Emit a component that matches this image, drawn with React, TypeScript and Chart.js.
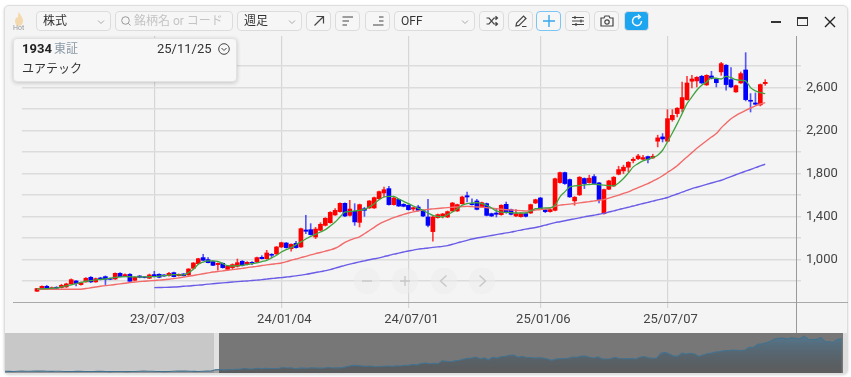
import React, { useEffect, useRef } from "react";
import { Chart, registerables } from "chart.js";

Chart.register(...registerables);

const opens = [
  705,723,751,730,742,739,745,773,801,767,
  792,835,792,829,841,822,819,872,844,863,
  807,847,838,826,860,863,857,850,878,850,
  866,857,919,962,1018,999,981,953,965,909,
  925,937,984,956,974,977,1021,1008,1049,1052,
  1117,1154,1101,1151,1117,1275,1278,1210,1272,1318,
  1343,1415,1446,1523,1411,1449,1346,1473,1480,1480,
  1566,1619,1660,1511,1560,1514,1505,1470,1489,1458,
  1396,1260,1390,1405,1396,1452,1452,1520,1594,1520,
  1545,1489,1520,1427,1433,1418,1514,1464,1405,1399,
  1427,1433,1526,1573,1464,1446,1458,1716,1809,1744,
  1546,1602,1754,1716,1772,1713,1428,1654,1685,1794,
  1825,1859,1921,1939,1933,1958,1946,2101,2141,2101,
  2302,2358,2405,2488,2659,2662,2705,2625,2708,2677,
  2746,2808,2674,2560,2643,2764,2482,2457,2439,2637,
];
const closes = [
  730,751,726,739,733,760,773,813,776,785,
  826,792,822,816,816,816,872,841,860,798,
  835,835,832,857,841,835,847,872,841,863,
  850,912,968,1008,993,971,946,965,925,940,
  953,971,946,974,968,1018,1008,1061,1040,1117,
  1157,1111,1142,1111,1287,1263,1232,1284,1328,1384,
  1439,1458,1523,1405,1470,1350,1511,1458,1545,1576,
  1632,1650,1511,1573,1498,1495,1464,1483,1458,1405,
  1318,1396,1418,1424,1446,1526,1511,1582,1582,1511,
  1467,1529,1411,1405,1421,1505,1436,1421,1427,1427,
  1402,1511,1557,1473,1446,1464,1752,1809,1707,1583,
  1580,1766,1707,1757,1707,1558,1651,1732,1766,1837,
  1859,1905,1933,1964,1949,1933,1961,2132,2122,2311,
  2342,2408,2507,2643,2680,2696,2643,2714,2687,2646,
  2823,2628,2606,2618,2730,2488,2473,2445,2628,2649,
];
const highs = [
  732,755,760,745,748,770,780,820,805,790,
  832,842,828,835,848,828,876,878,868,870,
  840,852,842,865,891,868,860,882,884,866,
  870,916,972,1012,1049,1018,985,970,970,945,
  960,1005,990,980,980,1022,1036,1086,1055,1122,
  1162,1158,1147,1170,1292,1412,1334,1300,1343,1390,
  1446,1474,1528,1528,1551,1520,1516,1485,1550,1582,
  1638,1675,1681,1578,1565,1520,1510,1490,1505,1462,
  1560,1402,1424,1430,1452,1532,1516,1590,1628,1566,
  1560,1535,1526,1432,1473,1510,1535,1470,1464,1434,
  1434,1516,1562,1578,1470,1470,1758,1815,1815,1750,
  1586,1772,1760,1785,1790,1718,1656,1738,1772,1868,
  1878,1912,1949,1980,1970,1962,1980,2157,2172,2395,
  2395,2414,2652,2705,2714,2702,2714,2720,2752,2682,
  2835,2814,2786,2624,2745,2925,2544,2550,2634,2674,
];
const lows = [
  703,720,720,725,728,735,740,770,754,762,
  790,785,788,810,767,812,815,838,840,795,
  805,830,828,822,838,830,843,846,838,846,
  846,853,915,958,990,968,942,900,920,905,
  915,930,940,950,953,972,1005,1003,1018,1048,
  1112,1106,1077,1106,1112,1241,1228,1195,1265,1312,
  1338,1410,1440,1400,1405,1318,1303,1402,1475,1475,
  1560,1582,1506,1506,1493,1490,1460,1455,1453,1400,
  1303,1170,1385,1387,1390,1447,1447,1515,1536,1505,
  1462,1484,1406,1400,1396,1412,1430,1415,1400,1394,
  1396,1428,1520,1468,1436,1440,1452,1710,1700,1578,
  1505,1596,1660,1710,1702,1527,1422,1650,1680,1788,
  1800,1815,1899,1930,1928,1899,1940,2048,2094,2095,
  2287,2327,2373,2482,2597,2606,2638,2620,2680,2606,
  2714,2575,2600,2555,2638,2476,2373,2440,2429,2621,
];
const maShort = [
  726,728,730,733,736,745,754,765,776,787,
  798,804,810,815,819,827,835,838,841,840,
  838,838,838,840,841,846,850,855,860,858,
  857,878,909,956,977,987,987,984,962,943,
  940,943,946,952,962,968,981,993,1015,1040,
  1070,1092,1111,1139,1164,1191,1216,1235,1256,1278,
  1312,1349,1396,1442,1446,1452,1458,1466,1490,1520,
  1557,1582,1588,1588,1563,1542,1520,1498,1477,1458,
  1433,1411,1402,1396,1418,1442,1473,1505,1520,1526,
  1529,1520,1505,1480,1452,1442,1439,1436,1433,1433,
  1433,1452,1473,1477,1480,1480,1505,1583,1630,1676,
  1685,1688,1695,1698,1701,1698,1692,1688,1685,1713,
  1754,1806,1862,1893,1918,1933,1949,1971,2017,2095,
  2178,2265,2358,2451,2513,2575,2622,2652,2690,2687,
  2680,2705,2693,2674,2668,2662,2600,2569,2553,2544,
];
const maMid = [
  723,724,724,724,724,724,724,724,724,724,
  730,737,744,751,757,762,768,774,780,786,
  791,795,798,802,805,809,812,817,823,830,
  837,844,852,860,868,876,884,889,895,900,
  906,912,918,925,931,937,944,950,956,962,
  968,980,993,1005,1018,1030,1043,1055,1066,1078,
  1090,1105,1130,1160,1180,1197,1212,1240,1270,1300,
  1330,1352,1372,1390,1405,1420,1433,1444,1452,1460,
  1467,1471,1475,1479,1483,1486,1489,1492,1495,1492,
  1489,1486,1483,1478,1473,1468,1464,1461,1458,1455,
  1452,1456,1461,1466,1470,1480,1495,1506,1511,1516,
  1521,1527,1533,1539,1546,1552,1558,1572,1586,1600,
  1615,1630,1650,1669,1688,1707,1730,1752,1780,1810,
  1840,1872,1915,1955,1995,2035,2070,2105,2140,2172,
  2225,2268,2310,2340,2365,2388,2410,2430,2447,2460,
];
const maLong: (number | null)[] = [
  null,null,null,null,null,null,null,null,null,null,
  null,null,null,null,null,null,null,null,null,null,
  null,null,null,null,739,740,741,742,744,747,
  751,754,758,762,766,771,775,779,783,787,
  791,795,798,801,805,809,813,818,823,828,
  832,837,842,848,855,862,870,880,888,897,
  906,920,933,946,958,968,978,988,998,1007,
  1015,1027,1038,1050,1060,1070,1080,1088,1097,1102,
  1108,1113,1118,1123,1129,1142,1155,1167,1179,1191,
  1200,1208,1216,1224,1232,1240,1248,1255,1265,1274,
  1283,1291,1298,1309,1320,1332,1343,1352,1361,1370,
  1379,1388,1397,1405,1413,1421,1430,1442,1453,1465,
  1476,1487,1498,1510,1521,1532,1543,1555,1566,1577,
  1594,1610,1627,1643,1660,1673,1686,1699,1712,1725,
  1738,1755,1772,1789,1806,1822,1838,1855,1871,1887,
];
const earlierCloses = [
  640,635,630,640,650,645,640,650,660,650,
  640,635,645,640,630,625,630,640,635,630,
  625,630,635,640,630,620,625,630,625,620,
  625,630,640,650,645,640,630,625,620,630,
  640,650,660,650,640,635,630,640,650,660,
];
const dateTicks = [
  { week: 24, label: "23/07/03" },
  { week: 50, label: "24/01/04" },
  { week: 76, label: "24/07/01" },
  { week: 103, label: "25/01/06" },
  { week: 129, label: "25/07/07" },
];
const gridPrices = [800, 1000, 1200, 1400, 1600, 1800, 2000, 2200, 2400, 2600, 2800];
const labelledPrices = [1000, 1400, 1800, 2200, 2600];

const UI_FONT = "Roboto, 'Noto Sans CJK JP', sans-serif";
const RED = "#ff0000";
const BLUE = "#0000ff";

const toPoints = (vals: (number | null)[]) => vals.map((y, x) => ({ x, y }));

function Box({ l, w, children, active, fill }: any) {
  return (
    <div
      style={{
        position: "absolute", left: l, top: 11, width: w, height: 20, boxSizing: "border-box",
        border: `1.2px solid ${active ? "#7cc4f2" : "#dcdcdc"}`, borderRadius: 4,
        background: fill || "#f6f6f6", display: "flex", alignItems: "center", justifyContent: "center",
      }}
    >
      {children}
    </div>
  );
}

function Select({ l, w, text }: any) {
  return (
    <Box l={l} w={w}>
      <span style={{ position: "absolute", left: 6, top: 0, lineHeight: "18px", fontSize: 12, color: "#333" }}>{text}</span>
      <svg width="8" height="6" style={{ position: "absolute", right: 5, top: 7 }}>
        <path d="M1 1.5 L4 4.5 L7 1.5" fill="none" stroke="#aaa" strokeWidth="1" />
      </svg>
    </Box>
  );
}

function Icon({ d, color = "#444", w = 1.2 }: any) {
  return (
    <svg width="16" height="16" viewBox="0 0 16 16">
      <path d={d} fill="none" stroke={color} strokeWidth={w} />
    </svg>
  );
}

function Round({ x, d }: any) {
  return (
    <div style={{ position: "absolute", left: x - 13, top: 268, width: 26, height: 26, borderRadius: 13, background: "rgba(236,236,236,0.5)", display: "flex", alignItems: "center", justifyContent: "center" }}>
      <Icon d={d} color="#c8c8c8" w={1.4} />
    </div>
  );
}

export default function App() {
  const mainRef = useRef<HTMLCanvasElement>(null);
  const navRef = useRef<HTMLCanvasElement>(null);

  useEffect(() => {
    const bodyColors = closes.map((c, i) => (c >= opens[i] ? RED : BLUE));
    const wickColors = closes.map((c, i) => (c >= opens[i] ? "rgba(255,0,0,0.75)" : "rgba(0,0,255,0.65)"));
    const lineStyle = { pointRadius: 0, cubicInterpolationMode: "monotone" };
    const main = new Chart(mainRef.current as HTMLCanvasElement, {
      type: "bar",
      data: {
        datasets: [
          { type: "line", label: "13週", data: toPoints(maShort) as any, borderColor: "#3fa33f", borderWidth: 1.3, order: 1, ...lineStyle },
          { type: "line", label: "26週", data: toPoints(maMid) as any, borderColor: "#f26a6a", borderWidth: 1.4, order: 2, ...lineStyle },
          { type: "line", label: "52週", data: toPoints(maLong) as any, borderColor: "#6a5ce6", borderWidth: 1.4, order: 3, ...lineStyle },
          {
            type: "bar", label: "実体", data: opens.map((o, i) => ({ x: i, y: [o, closes[i]] })) as any,
            backgroundColor: bodyColors, borderWidth: 0, borderSkipped: false, barThickness: 4, grouped: false, order: 4,
          },
          {
            type: "bar", label: "ヒゲ", data: lows.map((l, i) => ({ x: i, y: [l, highs[i]] })) as any,
            backgroundColor: wickColors, borderWidth: 0, borderSkipped: false, barThickness: 1, grouped: false, order: 5,
          },
        ],
      },
      options: {
        animation: false,
        responsive: false,
        layout: { padding: { left: 22, top: 36, right: 0, bottom: 0 } },
        plugins: { legend: { display: false }, tooltip: { enabled: false } },
        scales: {
          x: {
            type: "linear", offset: false, min: -3.07, max: 155.3,
            afterBuildTicks: (axis: any) => { axis.ticks = dateTicks.map((t) => ({ value: t.week })); },
            afterFit: (axis: any) => { axis.height = 75; },
            grid: { color: "#d6d6d6", lineWidth: 1.2, tickLength: 6, offset: false, drawTicks: true },
            border: { display: false },
            ticks: {
              autoSkip: false, maxRotation: 0, padding: 4, labelOffset: 3, color: "#444",
              font: { family: UI_FONT, size: 13 },
              callback: (v: any) => dateTicks.find((t) => t.week === v)?.label ?? "",
            },
          },
          y: {
            position: "right", min: 605, max: 3080,
            afterBuildTicks: (axis: any) => { axis.ticks = gridPrices.map((value) => ({ value })); },
            afterFit: (axis: any) => { axis.width = 55; },
            grid: { color: "#dcdcdc", lineWidth: 1.5, tickLength: 5 },
            border: { display: false },
            ticks: {
              autoSkip: false, padding: 5, color: "#444", font: { family: UI_FONT, size: 13 },
              callback: (v: any) => (labelledPrices.includes(v) ? Number(v).toLocaleString("en-US") : ""),
            },
          },
        },
      } as any,
    });

    const nav = new Chart(navRef.current as HTMLCanvasElement, {
      type: "line",
      data: {
        datasets: [
          {
            data: [
              ...earlierCloses.map((y, i) => ({ x: i - earlierCloses.length, y })),
              ...closes.map((y, x) => ({ x, y })),
            ] as any,
            borderColor: "#44728e", borderWidth: 1.1, pointRadius: 0, tension: 0, fill: "start",
            backgroundColor: (ctx: any) => {
              const area = ctx.chart.chartArea;
              if (!area) return "rgba(60,130,175,0.4)";
              const g = ctx.chart.ctx.createLinearGradient(0, area.top, 0, area.bottom);
              g.addColorStop(0, "rgba(50,125,175,0.5)");
              g.addColorStop(1, "rgba(30,30,30,0.3)");
              return g;
            },
          },
        ],
      },
      options: {
        animation: false,
        responsive: false,
        plugins: { legend: { display: false }, tooltip: { enabled: false } },
        scales: {
          x: { type: "linear", display: false, min: -50, max: 150 },
          y: { display: false, min: 534, max: 3014 },
        },
      } as any,
    });
    return () => { main.destroy(); nav.destroy(); };
  }, []);

  return (
    <div style={{ position: "absolute", left: 0, top: 0, width: 851, height: 377, background: "#fff", overflow: "hidden", fontFamily: UI_FONT }}>
      <div style={{ position: "absolute", left: 4, top: 5, width: 844, height: 369, boxSizing: "border-box", background: "#f4f4f4", border: "1.3px solid #dedede", borderRadius: 5, boxShadow: "0 1px 3px rgba(0,0,0,0.18)" }} />
      <canvas ref={mainRef} width={851} height={377} style={{ position: "absolute", left: 0, top: 0, width: 851, height: 377 }} />

      {/* navigator */}
      <div style={{ position: "absolute", left: 5, top: 333, width: 209, height: 40, background: "#c8c8c8" }} />
      <div style={{ position: "absolute", left: 214, top: 333, width: 5, height: 40, background: "#e2e2e2" }} />
      <div style={{ position: "absolute", left: 219, top: 333, width: 624, height: 40, background: "#777" }} />
      <div style={{ position: "absolute", left: 843, top: 333, width: 4, height: 40, background: "#dedede" }} />
      <canvas ref={navRef} width={841} height={40} style={{ position: "absolute", left: 5, top: 333, width: 841, height: 40 }} />

      {/* axis rules */}
      <div style={{ position: "absolute", left: 13, top: 302, width: 835, height: 1, background: "#a9a9a9" }} />
      <div style={{ position: "absolute", left: 796, top: 36, width: 1, height: 297, background: "#9a9a9a" }} />

      {/* hot */}
      <svg width="12" height="14" viewBox="0 0 12 14" style={{ position: "absolute", left: 13, top: 12 }}>
        <path d="M6 0 C7 3 10 5 10 9 C10 12 8 14 6 14 C4 14 2 12 2 9 C2 7 3 6 4 5 C4 6 5 6 5 5 C5 3 5 2 6 0 Z" fill="#f5d9ae" />
      </svg>
      <div style={{ position: "absolute", left: 13, top: 24, fontSize: 7, lineHeight: "9px", color: "#999" }}>Hot</div>

      {/* toolbar */}
      <Select l={36} w={75} text="株式" />
      <Box l={115} w={118}>
        <svg width="12" height="12" viewBox="0 0 12 12" style={{ position: "absolute", left: 4, top: 3 }}>
          <circle cx="5.5" cy="5.5" r="3.8" fill="none" stroke="#999" strokeWidth="1" />
          <path d="M8.4 8.4 L10.5 10.5" stroke="#999" strokeWidth="1" />
        </svg>
        <span style={{ position: "absolute", left: 18, top: 0, lineHeight: "18px", fontSize: 12, color: "#c4c4c4", whiteSpace: "nowrap" }}>銘柄名 or コード</span>
      </Box>
      <Select l={237} w={65} text="週足" />
      <Box l={306} w={25}><Icon d="M3.5 12.5 L12.5 3.5 M5.5 3.5 H12.5 V10.5" /></Box>
      <Box l={335} w={25}><Icon d="M2.5 4 H13 M2.5 8 H9 M2.5 12 H7" /></Box>
      <Box l={365} w={25}><Icon d="M9 4 H13.5 M9 8 H13.5 M3 12 H13.5" /></Box>
      <Select l={394} w={81} text="OFF" />
      <Box l={479} w={25}><Icon d="M2.5 5 H5 L10 11 H13 M2.5 11 H5 L10 5 H13 M11.5 3.2 L13.5 5 L11.5 6.8 M11.5 9.2 L13.5 11 L11.5 12.8" /></Box>
      <Box l={508} w={25}><Icon d="M3 13 L3.6 10 L10.5 3 L13 5.5 L6 12.4 Z M9 13.5 H13.5" /></Box>
      <Box l={536} w={25} active><Icon d="M8 2 V14 M2 8 H14" color="#38a7ee" w={1.4} /></Box>
      <Box l={565} w={25}><Icon d="M2 4.5 H14 M2 8 H14 M2 11.5 H14 M5 3 V6 M11 6.5 V9.5 M6 10 V13" /></Box>
      <Box l={594} w={25}>
        <svg width="16" height="14" viewBox="0 0 16 14">
          <path d="M2 4 H5 L6 2 H10 L11 4 H14 V12 H2 Z" fill="none" stroke="#444" strokeWidth="1.2" />
          <circle cx="8" cy="8" r="2.2" fill="none" stroke="#444" strokeWidth="1.2" />
        </svg>
      </Box>
      <Box l={624} w={25} fill="#1ea5f0" >
        <svg width="16" height="16" viewBox="0 0 16 16">
          <path d="M12.5 8 A4.5 4.5 0 1 1 10 4" fill="none" stroke="#fff" strokeWidth="1.4" />
          <path d="M9 1.5 L11.5 4 L9 6" fill="none" stroke="#fff" strokeWidth="1.2" />
        </svg>
      </Box>

      {/* window controls */}
      <div style={{ position: "absolute", left: 771, top: 21, width: 10, height: 1.5, background: "#333" }} />
      <div style={{ position: "absolute", left: 797, top: 17, width: 11, height: 9, boxSizing: "border-box", border: "1.2px solid #333", borderTopWidth: 2.5 }} />
      <svg width="12" height="12" style={{ position: "absolute", left: 824, top: 16 }}>
        <path d="M1 1 L11 11 M11 1 L1 11" stroke="#222" strokeWidth="1.4" />
      </svg>

      {/* info box */}
      <div style={{ position: "absolute", left: 13, top: 38, width: 224, height: 44, boxSizing: "border-box", background: "#f7f7f7", border: "1px solid #e2e2e2", borderRadius: 4, boxShadow: "0 1px 4px rgba(0,0,0,0.2)" }}>
        <span style={{ position: "absolute", left: 8, top: 1, fontSize: 13, lineHeight: "18px", fontWeight: 700, color: "#222" }}>1934</span>
        <span style={{ position: "absolute", left: 40, top: 1, fontSize: 12, lineHeight: "18px", color: "#8b9aa6" }}>東証</span>
        <span style={{ position: "absolute", left: 143, top: 1, fontSize: 13, lineHeight: "18px", color: "#333" }}>25/11/25</span>
        <svg width="12" height="12" style={{ position: "absolute", left: 204, top: 4 }}>
          <circle cx="6" cy="6" r="5.3" fill="none" stroke="#444" strokeWidth="1" />
          <path d="M3.5 5 L6 7.5 L8.5 5" fill="none" stroke="#444" strokeWidth="1" />
        </svg>
        <span style={{ position: "absolute", left: 8, top: 21, fontSize: 12, lineHeight: "18px", color: "#333" }}>ユアテック</span>
      </div>

      {/* zoom controls */}
      <Round x={367} d="M3 8 H13" />
      <Round x={405} d="M3 8 H13 M8 3 V13" />
      <Round x={444} d="M10.5 2.5 L4.5 8 L10.5 13.5" />
      <Round x={482} d="M5.5 2.5 L11.5 8 L5.5 13.5" />
    </div>
  );
}
